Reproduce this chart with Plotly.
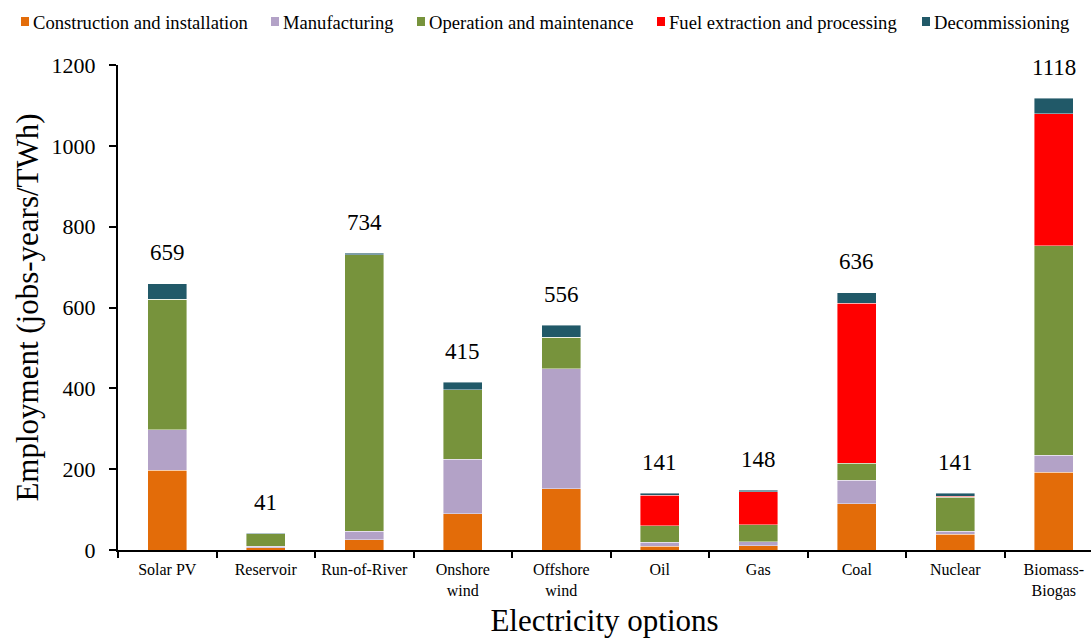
import plotly.graph_objects as go

categories = ["Solar PV", "Reservoir", "Run-of-River", "Onshore<br>wind", "Offshore<br>wind",
              "Oil", "Gas", "Coal", "Nuclear", "Biomass-<br>Biogas"]

construction = [197, 5, 25, 90, 152, 9, 11, 114, 39, 193]
manufacturing = [101, 4, 21, 134, 297, 10, 10, 58, 7, 41]
operation = [322, 31, 684, 172, 77, 41, 42, 43, 85, 519]
fuel = [0, 0, 0, 0, 0, 76, 81, 396, 2, 326]
decommissioning = [39, 1, 4, 19, 30, 5, 4, 25, 8, 39]
totals = [659, 41, 734, 415, 556, 141, 148, 636, 141, 1118]

series_names = ["Construction and installation", "Manufacturing", "Operation and maintenance",
                "Fuel extraction and processing", "Decommissioning"]
series_values = [construction, manufacturing, operation, fuel, decommissioning]
series_colors = ["#E36C09", "#B3A2C7", "#77933C", "#FF0000", "#215968"]

FONT = "Liberation Serif"
W, H = 1091, 639
ML, MR, MT, MB = 118, 0, 65, 89
PW, PH = W - ML - MR, H - MT - MB

# custom legend layout (pixel positions of each legend square's left edge)
legend_px = [21, 271, 417, 657, 922]
legend_py = 22


def px_to_paper_x(px):
    return (px - ML) / PW


def py_to_paper_y(py):
    return (H - MB - py) / PH


fig = go.Figure()
for name, vals, color in zip(series_names, series_values, series_colors):
    fig.add_trace(go.Bar(
        x=categories, y=vals, name=name,
        marker=dict(color=color, line=dict(color="rgba(255,255,255,0.7)", width=0.6)),
        width=0.4, showlegend=False,
    ))

for c, t in zip(categories, totals):
    fig.add_annotation(x=c, y=t, text=str(t), showarrow=False, yshift=31,
                       yanchor="middle", font=dict(family=FONT, size=23, color="black"))

for name, color, lx in zip(series_names, series_colors, legend_px):
    fig.add_shape(type="rect", xref="paper", yref="paper",
                  x0=px_to_paper_x(lx), x1=px_to_paper_x(lx + 8),
                  y0=py_to_paper_y(legend_py + 4), y1=py_to_paper_y(legend_py - 5),
                  fillcolor=color, line=dict(width=0))
    fig.add_annotation(xref="paper", yref="paper", x=px_to_paper_x(lx + 10), y=py_to_paper_y(legend_py),
                       text=name, showarrow=False, xanchor="left", yanchor="middle",
                       font=dict(family=FONT, size=18.6, color="black"))

fig.update_layout(
    barmode="stack",
    width=W, height=H,
    margin=dict(l=ML, r=MR, t=MT, b=MB),
    plot_bgcolor="white", paper_bgcolor="white",
    font=dict(family=FONT, color="black"),
    showlegend=False,
)
fig.update_xaxes(
    range=[-0.5, 9.378],
    showline=True, linecolor="black", linewidth=2,
    ticks="outside", tickson="boundaries", ticklen=6, tickcolor="black", tickwidth=2,
    ticklabelstandoff=4,
    tickfont=dict(family=FONT, size=16, color="black"),
    title=dict(text="Electricity options", font=dict(family=FONT, size=31), standoff=10),
)
fig.update_yaxes(
    range=[0, 1200], dtick=200,
    showline=True, linecolor="black", linewidth=2,
    ticks="outside", ticklen=7, tickcolor="black", tickwidth=2,
    ticklabelstandoff=9,
    showgrid=False, zeroline=False,
    tickfont=dict(family=FONT, size=22, color="black"),
    title=dict(text="Employment (jobs-years/TWh)", font=dict(family=FONT, size=31), standoff=4),
)

fig.write_html("out.html")
